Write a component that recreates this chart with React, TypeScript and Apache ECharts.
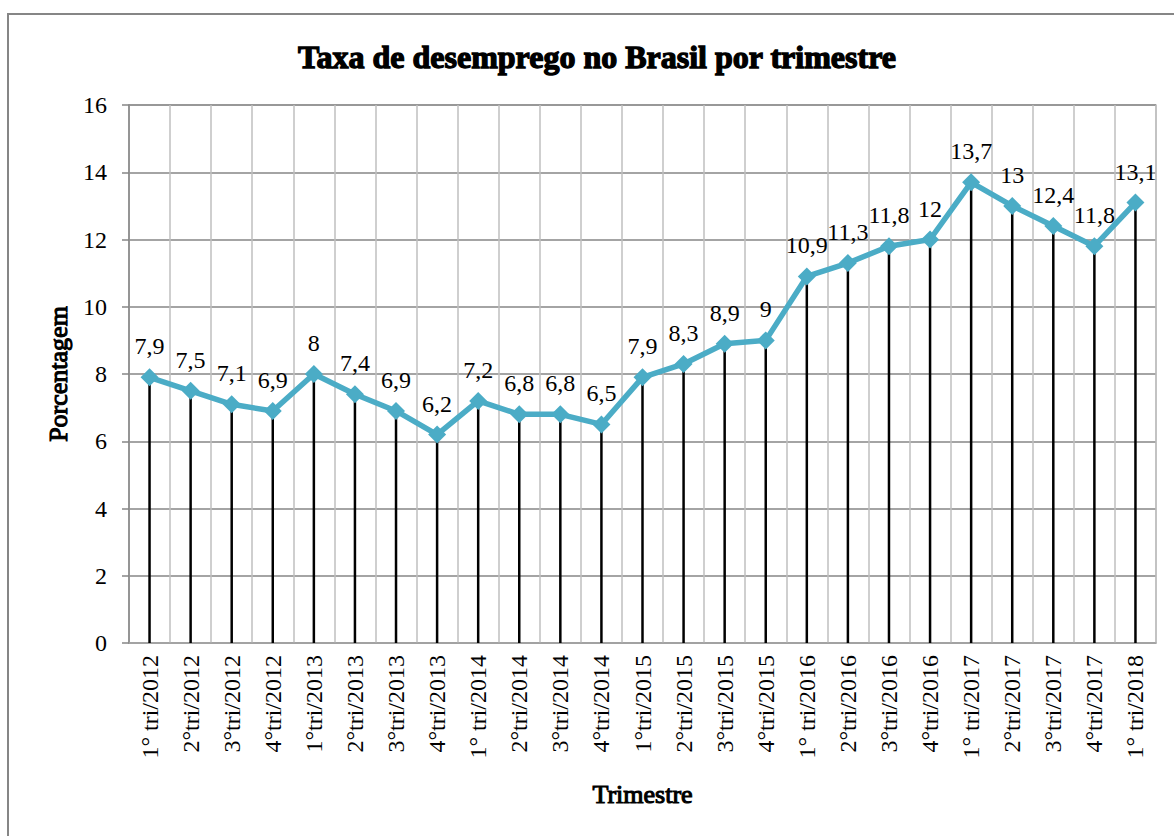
import React, { useEffect, useRef } from "react";
import * as echarts from "echarts";

const categories = [
  "1° tri/2012", "2°tri/2012", "3°tri/2012", "4°tri/2012",
  "1°tri/2013", "2°tri/2013", "3°tri/2013", "4°tri/2013",
  "1° tri/2014", "2°tri/2014", "3°tri/2014", "4°tri/2014",
  "1°tri/2015", "2°tri/2015", "3°tri/2015", "4°tri/2015",
  "1° tri/2016", "2°tri/2016", "3°tri/2016", "4°tri/2016",
  "1° tri/2017", "2°tri/2017", "3°tri/2017", "4°tri/2017",
  "1° tri/2018",
];
const values = [
  7.9, 7.5, 7.1, 6.9, 8, 7.4, 6.9, 6.2, 7.2, 6.8, 6.8, 6.5,
  7.9, 8.3, 8.9, 9, 10.9, 11.3, 11.8, 12, 13.7, 13, 12.4, 11.8, 13.1,
];
const yTicks = { min: 0, max: 16, interval: 2 };

const FONT = "Liberation Serif";

export default function App() {
  const ref = useRef<HTMLDivElement>(null);
  useEffect(() => {
    if (!ref.current) return;
    const chart = echarts.init(ref.current, null, { renderer: "svg" });
    const heavy = { textBorderColor: "#000", textBorderWidth: 1.1 };
    chart.setOption({
      animation: false,
      title: {
        text: "Taxa de desemprego no Brasil por trimestre",
        left: 592,
        top: 36,
        textAlign: "center",
        textStyle: { fontFamily: FONT, fontSize: 32, color: "#000", ...heavy, textBorderWidth: 1.3 },
      },
      grid: {
        left: 129,
        right: 18,
        top: 105,
        bottom: 193,
        show: true,
        borderColor: "#BFBFBF",
        borderWidth: 1.5,
      },
      xAxis: {
        type: "category",
        data: categories,
        boundaryGap: true,
        name: "Trimestre",
        nameLocation: "middle",
        nameGap: 138,
        nameTextStyle: { fontFamily: FONT, fontSize: 26, color: "#000", ...heavy },
        axisLine: { show: true, lineStyle: { color: "#A6A6A6", width: 1.5 } },
        axisTick: { show: false },
        axisLabel: { fontFamily: FONT, fontSize: 24, color: "#000", rotate: 90, interval: 0, margin: 12 },
        splitLine: { show: true, interval: 0, lineStyle: { color: "#BFBFBF", width: 1.5 } },
      },
      yAxis: {
        type: "value",
        min: yTicks.min,
        max: yTicks.max,
        interval: yTicks.interval,
        name: "Porcentagem",
        nameLocation: "middle",
        nameGap: 56,
        nameTextStyle: { fontFamily: FONT, fontSize: 26, color: "#000", ...heavy },
        axisLine: { show: true, lineStyle: { color: "#868686", width: 1.5 } },
        axisTick: { show: true, length: 7, lineStyle: { color: "#868686", width: 1.5 } },
        axisLabel: { fontFamily: FONT, fontSize: 24, color: "#000", margin: 22 },
        splitLine: { show: true, lineStyle: { color: "#868686", width: 1.5 } },
      },
      series: [
        {
          type: "bar",
          data: values,
          barWidth: 2.5,
          itemStyle: { color: "#000" },
          silent: true,
          z: 2,
        },
        {
          type: "line",
          data: values,
          symbol: "diamond",
          symbolSize: 18,
          lineStyle: { color: "#4BACC6", width: 5.5 },
          itemStyle: { color: "#4BACC6" },
          z: 3,
          label: {
            show: true,
            position: "top",
            distance: 10,
            fontFamily: FONT,
            fontSize: 24,
            color: "#000",
            formatter: (p: any) => String(p.value).replace(".", ","),
          },
        },
      ],
    });
    return () => chart.dispose();
  }, []);
  return (
    <div
      style={{
        position: "absolute",
        left: 0,
        top: 0,
        width: 1174,
        height: 836,
        overflow: "hidden",
        background: "#ffffff",
      }}
    >
      <div
        ref={ref}
        style={{ position: "absolute", left: 0, top: 0, width: 1174, height: 836 }}
      />
      <div
        style={{
          position: "absolute",
          left: 7,
          top: 13,
          width: 1200,
          height: 900,
          border: "2px solid #868686",
          pointerEvents: "none",
        }}
      />
    </div>
  );
}
